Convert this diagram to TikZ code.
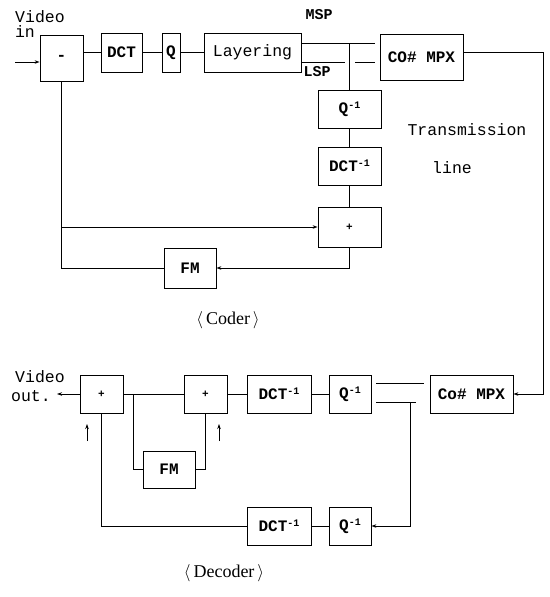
\documentclass[tikz,border=0pt]{standalone}
\usepackage{fontspec}
\setmonofont{Liberation Mono}
\setmainfont{Liberation Serif}
\usetikzlibrary{arrows.meta}
\newcommand{\inv}{\raisebox{0.55ex}{\fontsize{10}{10}\selectfont -1}}
\begin{document}
\begin{tikzpicture}[x=1pt,y=-1pt,
  blk/.style={draw,line width=0.8pt,inner sep=0pt,font=\fontsize{16}{16}\selectfont\ttfamily\bfseries},
  lbl/.style={inner sep=0pt,font=\fontsize{16.5}{16.5}\selectfont\ttfamily},
  captext/.style={inner sep=0pt,font=\fontsize{18}{18}\selectfont\rmfamily},
  ln/.style={line width=0.8pt},
  arr/.style={line width=0.8pt,-{Stealth[length=5pt,width=3.5pt]}}]
\useasboundingbox (0,0) rectangle (549,597);
% ---------- Coder ----------
\node[blk,minimum width=43pt,minimum height=46pt] (sub) at (61.5,58) {-};
\node[blk,minimum width=41pt,minimum height=39pt] (dct) at (121.5,52.5) {DCT};
\node[blk,minimum width=18pt,minimum height=39pt] (q) at (171,52.5) {Q};
\node[blk,minimum width=97pt,minimum height=39pt,font=\fontsize{16.5}{16.5}\selectfont\ttfamily] (lay) at (252.5,52.5) {Layering};
\node[blk,minimum width=83pt,minimum height=46pt] (mpx) at (421.5,57) {CO\# MPX};
\node[blk,minimum width=63pt,minimum height=38pt] (qi) at (349.5,109) {Q\inv};
\node[blk,minimum width=63pt,minimum height=38pt] (dcti) at (349.5,166) {DCT\inv};
\node[blk,minimum width=63pt,minimum height=40pt] (add) at (349.5,227) {\fontsize{11}{11}\selectfont +};
\node[blk,minimum width=52pt,minimum height=40pt] (fm) at (190,268) {FM};

\node[lbl] (vin) at (40,17) {Video};
\node[lbl] (in) at (25,32) {in};
\node[lbl,font=\fontsize{15}{15}\selectfont\ttfamily\bfseries] (msp) at (319,15) {MSP};
\node[lbl,font=\fontsize{15}{15}\selectfont\ttfamily\bfseries] (lsp) at (317,72) {LSP};
\node[lbl] (tr) at (467,130) {Transmission};
\node[lbl] (tl) at (452,168) {line};
\node[captext] (coder) at (228,320) {$\langle$\,Coder\,$\rangle$};

\coordinate (vi0) at (15,62);
\coordinate (m0) at (301,43);
\coordinate (m1) at (375,43);
\coordinate (l0) at (301,62);
\coordinate (l1) at (345,62);
\coordinate (l2) at (355,62);
\coordinate (l3) at (375,62);
\coordinate (mj) at (349.5,43);
\coordinate (tx) at (543,52);
\coordinate (j) at (61.5,227);

\draw[arr] (vi0) -- (vi0 -| sub.west);
\draw[ln] (sub.east |- dct) -- (dct.west);
\draw[ln] (dct) -- (q);
\draw[ln] (q) -- (lay);
\draw[ln] (m0) -- (m1);
\draw[ln] (l0) -- (l1);
\draw[ln] (l2) -- (l3);
\draw[ln] (mj) -- (qi.north);
\draw[ln] (qi) -- (dcti);
\draw[ln] (dcti) -- (add);
\draw[ln] (sub.south) |- (fm.west);
\draw[arr] (j) -- (add.west);
\draw[arr] (add.south) |- (fm.east);

% ---------- Decoder ----------
\node[blk,minimum width=43pt,minimum height=38pt] (a1) at (101.5,394) {\fontsize{11}{11}\selectfont +};
\node[blk,minimum width=43pt,minimum height=38pt] (a2) at (205.5,394) {\fontsize{11}{11}\selectfont +};
\node[blk,minimum width=64pt,minimum height=38pt] (dd) at (279,394) {DCT\inv};
\node[blk,minimum width=42pt,minimum height=38pt] (dq) at (350,394) {Q\inv};
\node[blk,minimum width=83pt,minimum height=38pt] (dmpx) at (471.5,394) {Co\# MPX};
\node[blk,minimum width=52pt,minimum height=37pt] (fm2) at (169,469.5) {FM};
\node[blk,minimum width=64pt,minimum height=38pt] (dd2) at (279,526) {DCT\inv};
\node[blk,minimum width=42pt,minimum height=38pt] (dq2) at (350,526) {Q\inv};

\node[lbl] (vout) at (40,377) {Video};
\node[lbl] (out) at (31,396) {out.};
\node[captext] (decoder) at (224,573) {$\langle$\,Decoder\,$\rangle$};

\coordinate (vo) at (57,394);
\coordinate (u0) at (376,383);
\coordinate (u1) at (424,383);
\coordinate (w0) at (376,402);
\coordinate (w1) at (410,402);
\coordinate (w2) at (416,402);
\coordinate (jd) at (133,394);
\coordinate (ua0) at (87,441);
\coordinate (ua1) at (87,424);
\coordinate (ub0) at (219,441);
\coordinate (ub1) at (219,424);

\draw[ln] (mpx.east |- tx) -- (tx);
\draw[arr] (tx) |- (dmpx.east);
\draw[arr] (a1.west) -- (vo);
\draw[ln] (a1) -- (a2);
\draw[ln] (a2) -- (dd);
\draw[ln] (dd) -- (dq);
\draw[ln] (u0) -- (u1);
\draw[ln] (w0) -- (w2);
\draw[arr] (w1) |- (dq2.east);
\draw[ln] (jd) |- (fm2.west);
\draw[ln] (fm2.east) -| (a2.south);
\draw[ln] (a1.south) |- (dd2.west);
\draw[ln] (dd2) -- (dq2);
\draw[arr] (ua0) -- (ua1);
\draw[arr] (ub0) -- (ub1);
\end{tikzpicture}
\end{document}
